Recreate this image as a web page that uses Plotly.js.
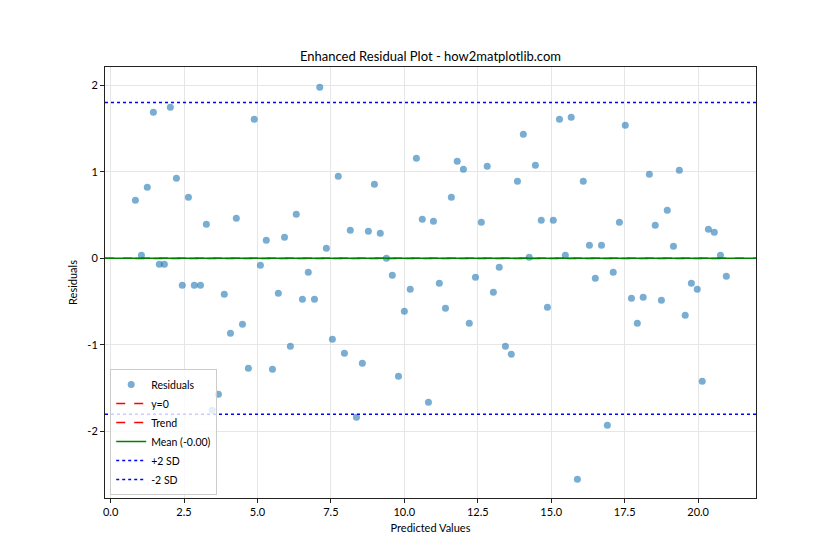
<!DOCTYPE html>
<html>
<head>
<meta charset="utf-8">
<script src="https://cdn.plot.ly/plotly-3.0.1.min.js"></script>
<style>html,body{margin:0;padding:0;background:#fff;}#chart{width:840px;height:560px;}</style>
</head>
<body>
<div id="chart"></div>
<script>
// Predicted values (x) and residuals (y)
const predicted = [
  0.845, 1.05, 1.25, 1.457, 1.66, 1.83, 2.035, 2.24, 2.44, 2.65,
  2.85, 3.06, 3.26, 3.46, 3.67, 3.87, 4.08, 4.28, 4.49, 4.69,
  4.89, 5.10, 5.30, 5.51, 5.71, 5.92, 6.12, 6.32, 6.53, 6.73,
  6.94, 7.12, 7.345, 7.55, 7.75, 7.96, 8.16, 8.37, 8.57, 8.775,
  8.98, 9.18, 9.39, 9.59, 9.80, 10.0, 10.20, 10.41, 10.61, 10.82,
  10.99, 11.19, 11.40, 11.60, 11.80, 12.01, 12.21, 12.42, 12.62, 12.82,
  13.03, 13.23, 13.44, 13.64, 13.85, 14.05, 14.25, 14.46, 14.66, 14.87,
  15.07, 15.28, 15.48, 15.68, 15.89, 16.09, 16.30, 16.50, 16.71, 16.91,
  17.11, 17.32, 17.52, 17.73, 17.93, 18.13, 18.34, 18.54, 18.75, 18.95,
  19.16, 19.36, 19.56, 19.77, 19.97, 20.14, 20.35, 20.55, 20.76, 20.96
];
const residuals = [
  0.670, 0.035, 0.820, 1.686, -0.070, -0.070, 1.744, 0.924, -0.312, 0.704,
  -0.312, -0.312, 0.393, -1.755, -1.570, -0.416, -0.866, 0.462, -0.762, -1.270,
  1.605, -0.081, 0.208, -1.280, -0.404, 0.242, -1.016, 0.508, -0.473, -0.162,
  -0.473, 1.975, 0.115, -0.935, 0.947, -1.097, 0.323, -1.836, -1.212, 0.312,
  0.854, 0.289, 0.000, -0.196, -1.363, -0.612, -0.358, 1.155, 0.450, -1.663,
  0.427, -0.289, -0.577, 0.704, 1.120, 1.028, -0.751, -0.219, 0.416, 1.062,
  -0.393, -0.104, -1.016, -1.109, 0.889, 1.432, 0.012, 1.074, 0.439, -0.566,
  0.439, 1.605, 0.035, 1.628, -2.552, 0.889, 0.150, -0.231, 0.150, -1.928,
  -0.162, 0.416, 1.536, -0.462, -0.751, -0.450, 0.970, 0.381, -0.485, 0.554,
  0.139, 1.016, -0.658, -0.289, -0.358, -1.420, 0.335, 0.300, 0.035, -0.208
];
const xTickVals = [0, 2.5, 5, 7.5, 10, 12.5, 15, 17.5, 20];
const xTickText = ["0.0", "2.5", "5.0", "7.5", "10.0", "12.5", "15.0", "17.5", "20.0"];
const yTickVals = [-2, -1, 0, 1, 2];
const yTickText = ["-2", "-1", "0", "1", "2"];
const meanLabel = "Mean (-0.00)";
const zeroLevel = 0;
const meanLevel = -0.00;
const sdUpper = 1.80;
const sdLower = -1.80;

// linear trend fitted to the residuals
const n = predicted.length;
const mx = predicted.reduce((a, b) => a + b, 0) / n;
const my = residuals.reduce((a, b) => a + b, 0) / n;
let sxy = 0, sxx = 0;
for (let i = 0; i < n; i++) { sxy += (predicted[i] - mx) * (residuals[i] - my); sxx += (predicted[i] - mx) ** 2; }
const slope = sxy / sxx;
const intercept = my - slope * mx;
const trendX = [Math.min(...predicted), Math.max(...predicted)];
const trendY = trendX.map(v => intercept + slope * v);

const FONT = "Lato, 'Liberation Sans', Arial, sans-serif";

const traces = [
  {
    type: "scatter", mode: "markers", name: "Residuals",
    x: predicted, y: residuals,
    marker: {color: "#1f77b4", size: 7, opacity: 0.6},
    legendrank: 1
  },
  {
    type: "scatter", mode: "lines", name: "Trend",
    x: trendX, y: trendY,
    line: {color: "red", dash: "dash", width: 1.5},
    legendrank: 3
  }
];

function hline(y, color, dash, width, name, rank) {
  return {
    type: "line", xref: "x domain", yref: "y", x0: 0, x1: 1, y0: y, y1: y,
    line: {color: color, dash: dash, width: width},
    showlegend: true, name: name, legendrank: rank, layer: "above"
  };
}

const layout = {
  width: 840, height: 560,
  paper_bgcolor: "#fff", plot_bgcolor: "#fff",
  margin: {l: 105, r: 84, t: 67, b: 62},
  font: {family: FONT, size: 11, color: "#000"},
  title: {text: "Enhanced Residual Plot - how2matplotlib.com", font: {size: 13, color: "#000"},
          x: 0.5, xref: "paper", y: 1 - 56 / 560, yref: "container", yanchor: "middle"},
  xaxis: {
    range: [-0.19, 21.97], tickvals: xTickVals, ticktext: xTickText,
    showgrid: true, gridcolor: "#e6e6e6", gridwidth: 1, zeroline: false,
    showline: true, linecolor: "#222", linewidth: 1, mirror: true,
    ticks: "outside", ticklen: 4, tickcolor: "#222",
    title: {text: "Predicted Values", font: {size: 11}, standoff: 7}
  },
  yaxis: {
    range: [-2.768, 2.209], tickvals: yTickVals, ticktext: yTickText,
    showgrid: true, gridcolor: "#e6e6e6", gridwidth: 1, zeroline: false,
    showline: true, linecolor: "#222", linewidth: 1, mirror: true,
    ticks: "outside", ticklen: 4, tickcolor: "#222",
    title: {text: "Residuals", font: {size: 11}, standoff: 7}
  },
  shapes: [
    hline(zeroLevel, "red", "dash", 1.5, "y=0", 2),
    hline(meanLevel, "green", "solid", 1.5, meanLabel, 4),
    hline(sdUpper, "blue", "dot", 1.5, "+2 SD", 5),
    hline(sdLower, "blue", "dot", 1.5, "-2 SD", 6)
  ],
  legend: {
    x: 0.008, y: 0.007, xanchor: "left", yanchor: "bottom",
    bgcolor: "rgba(255,255,255,0.8)", bordercolor: "#cccccc", borderwidth: 1,
    font: {size: 10.5}, itemwidth: 30, tracegroupgap: 0
  },
  showlegend: true
};

Plotly.newPlot("chart", traces, layout, {displayModeBar: false, staticPlot: true});
</script>
</body>
</html>
